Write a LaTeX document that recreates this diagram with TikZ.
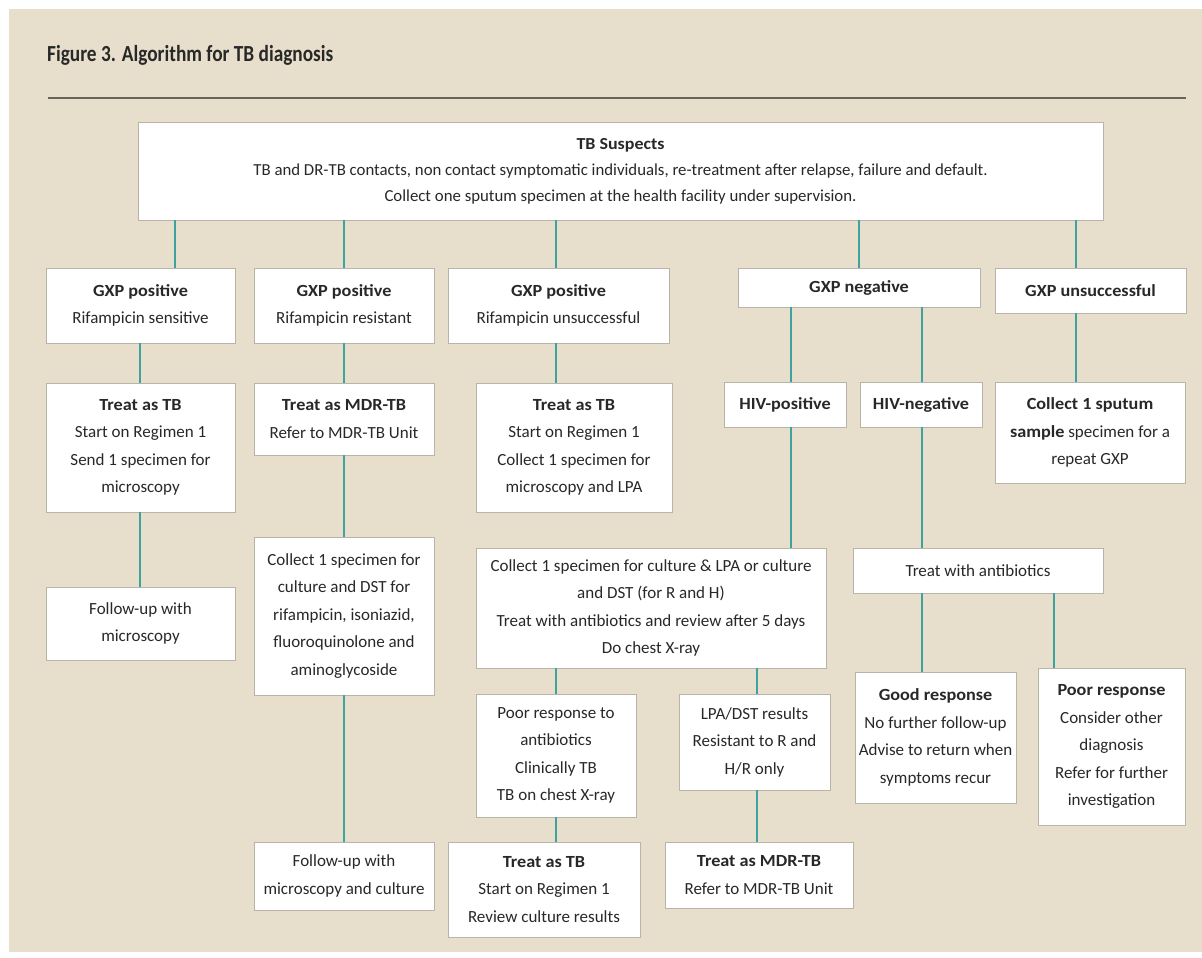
\documentclass[tikz,border=0pt]{standalone}
\usepackage{fontspec}
\setmainfont{Carlito}[BoldFeatures={FakeStretch=1.07}]
\newfontfamily\titlefont{Carlito}[FakeStretch=0.84]
\definecolor{bg}{RGB}{231,223,204}
\definecolor{teal1}{RGB}{62,163,158}
\definecolor{boxline}{RGB}{185,180,170}
\definecolor{txt}{RGB}{40,40,40}
\definecolor{rulecol}{RGB}{105,100,90}
\begin{document}
\begin{tikzpicture}[x=1pt,y=-1pt,
  box/.style={draw=boxline, fill=white, line width=0.9pt, align=center, inner sep=0pt, text=txt, font=\fontsize{17}{27.5}\selectfont},
  conn/.style={draw=teal1, line width=2.6pt}]
\useasboundingbox (0,0) rectangle (1202,958);
\fill[white] (0,0) rectangle (1202,958);
\fill[bg] (9,9) rectangle (1202,952);
\node[anchor=west, inner sep=0pt, font=\titlefont\bfseries\fontsize{23}{26}\selectfont, text=txt] (title) at (47,55) {Figure 3. Algorithm for TB diagnosis};
\draw[rulecol, line width=2.5pt] (48,98) -- (1186,98);
% boxes
\node[box, font=\fontsize{16.8}{26}\selectfont, minimum width=965pt, minimum height=98pt] (top) at (620.5,171) {\textbf{TB Suspects}\\TB and DR-TB contacts, non contact symptomatic individuals, re-treatment after relapse, failure and default.\\Collect one sputum specimen at the health facility under supervision.};
\node[box, minimum width=189pt, minimum height=75pt] (b1) at (140.5,305.5) {\textbf{GXP positive}\\Rifampicin sensitive};
\node[box, minimum width=180pt, minimum height=75pt] (b2) at (344,305.5) {\textbf{GXP positive}\\Rifampicin resistant};
\node[box, minimum width=221pt, minimum height=75pt] (b3) at (558.5,305.5) {\textbf{GXP positive}\\Rifampicin unsuccessful};
\node[box, minimum width=242pt, minimum height=39pt] (b4) at (859,287.5) {\textbf{GXP negative}};
\node[box, minimum width=191pt, minimum height=45pt] (b5) at (1090.5,290.5) {\textbf{GXP unsuccessful}};
\node[box, minimum width=189pt, minimum height=129pt] (c1) at (140.5,447.5) {\textbf{Treat as TB}\\Start on Regimen 1\\Send 1 specimen for\\microscopy};
\node[box, minimum width=180pt, minimum height=72pt] (c2) at (344,419) {\textbf{Treat as MDR-TB}\\Refer to MDR-TB Unit};
\node[box, minimum width=196pt, minimum height=129pt] (c3) at (574,447.5) {\textbf{Treat as TB}\\Start on Regimen 1\\Collect 1 specimen for\\microscopy and LPA};
\node[box, minimum width=122pt, minimum height=45pt] (hivp) at (785,404.5) {\textbf{HIV-positive}};
\node[box, minimum width=122pt, minimum height=45pt] (hivn) at (921,404.5) {\textbf{HIV-negative}};
\node[box, minimum width=190pt, minimum height=101pt] (c6) at (1090,432.5) {\textbf{Collect 1 sputum}\\\textbf{sample} specimen for a\\repeat GXP};
\node[box, minimum width=189pt, minimum height=73pt] (d1) at (140.5,623.5) {Follow-up with\\microscopy};
\node[box, minimum width=180pt, minimum height=158pt] (d2) at (344,616) {Collect 1 specimen for\\culture and DST for\\rifampicin, isoniazid,\\fluoroquinolone and\\aminoglycoside};
\node[box, minimum width=350pt, minimum height=120pt] (d3) at (651,608) {Collect 1 specimen for culture \& LPA or culture\\and DST (for R and H)\\Treat with antibiotics and review after 5 days\\Do chest X-ray};
\node[box, minimum width=250pt, minimum height=45pt] (abx) at (978,570.5) {Treat with antibiotics};
\node[box, minimum width=160pt, minimum height=123pt] (e1) at (556,755.5) {Poor response to\\antibiotics\\Clinically TB\\TB on chest X-ray};
\node[box, minimum width=151pt, minimum height=96pt] (e2) at (754.5,742) {LPA/DST results\\Resistant to R and\\H/R only};
\node[box, minimum width=161pt, minimum height=131pt] (e3) at (935.5,737.5) {\textbf{Good response}\\No further follow-up\\Advise to return when\\symptoms recur};
\node[box, minimum width=147pt, minimum height=157pt] (e4) at (1111.5,746.5) {\textbf{Poor response}\\Consider other\\diagnosis\\Refer for further\\investigation};
\node[box, minimum width=180pt, minimum height=68pt] (f1) at (344,876) {Follow-up with\\microscopy and culture};
\node[box, minimum width=192pt, minimum height=95pt] (f2) at (544,889.5) {\textbf{Treat as TB}\\Start on Regimen 1\\Review culture results};
\node[box, minimum width=188pt, minimum height=66pt] (f3) at (759,875) {\textbf{Treat as MDR-TB}\\Refer to MDR-TB Unit};
% connector columns
\coordinate (k140) at (140,0);
\coordinate (k175) at (175,0);
\coordinate (k344) at (344,0);
\coordinate (k556) at (556,0);
\coordinate (k757) at (757,0);
\coordinate (k791) at (791,0);
\coordinate (k859) at (859,0);
\coordinate (k922) at (922,0);
\coordinate (k1054) at (1054,0);
\coordinate (k1076) at (1076,0);
\draw[conn] (top.south -| k175) -- (b1.north -| k175);
\draw[conn] (top.south -| k344) -- (b2.north -| k344);
\draw[conn] (top.south -| k556) -- (b3.north -| k556);
\draw[conn] (top.south -| k859) -- (b4.north -| k859);
\draw[conn] (top.south -| k1076) -- (b5.north -| k1076);
\draw[conn] (b1.south -| k140) -- (c1.north -| k140);
\draw[conn] (b2.south -| k344) -- (c2.north -| k344);
\draw[conn] (b3.south -| k556) -- (c3.north -| k556);
\draw[conn] (b4.south -| k791) -- (hivp.north -| k791);
\draw[conn] (b4.south -| k922) -- (hivn.north -| k922);
\draw[conn] (b5.south -| k1076) -- (c6.north -| k1076);
\draw[conn] (c1.south -| k140) -- (d1.north -| k140);
\draw[conn] (c2.south -| k344) -- (d2.north -| k344);
\draw[conn] (hivp.south -| k791) -- (d3.north -| k791);
\draw[conn] (hivn.south -| k922) -- (abx.north -| k922);
\draw[conn] (d3.south -| k556) -- (e1.north -| k556);
\draw[conn] (d3.south -| k757) -- (e2.north -| k757);
\draw[conn] (abx.south -| k922) -- (e3.north -| k922);
\draw[conn] (abx.south -| k1054) -- (e4.north -| k1054);
\draw[conn] (d2.south -| k344) -- (f1.north -| k344);
\draw[conn] (e1.south -| k556) -- (f2.north -| k556);
\draw[conn] (e2.south -| k757) -- (f3.north -| k757);
\end{tikzpicture}
\end{document}
